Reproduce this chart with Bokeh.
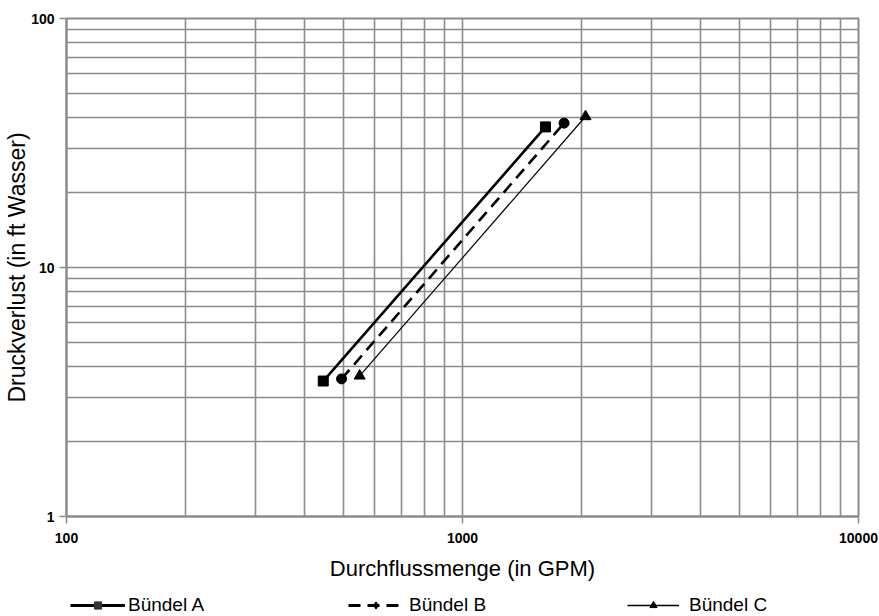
from bokeh.plotting import figure
from bokeh.layouts import column
from bokeh.models import FixedTicker, BasicTickFormatter, Legend, LegendItem, Range1d
from bokeh.embed import file_html
from bokeh.resources import INLINE

# Data
flow_a = [445, 1620]
dp_a = [3.5, 36.7]
flow_b = [495, 1805]
dp_b = [3.57, 38.0]
flow_c = [550, 2045]
dp_c = [3.67, 40.4]

labels = ["Bündel A", "Bündel B", "Bündel C"]

x_major = [100, 1000, 10000]
x_minor = [200, 300, 400, 500, 600, 700, 800, 900,
           2000, 3000, 4000, 5000, 6000, 7000, 8000, 9000]
y_major = [1, 10, 100]
y_minor = [2, 3, 4, 5, 6, 7, 8, 9, 20, 30, 40, 50, 60, 70, 80, 90]

GRID = "#8c8c8c"
FONT = "Liberation Sans"

p = figure(width=879, height=592, x_axis_type="log", y_axis_type="log",
           x_range=Range1d(100, 10000), y_range=Range1d(1, 100),
           output_backend="svg", toolbar_location=None,
           min_border_left=66, min_border_right=21, min_border_top=18,
           min_border_bottom=76)

p.background_fill_color = "white"
p.border_fill_color = "white"
p.outline_line_color = GRID
p.outline_line_width = 2

p.xaxis.ticker = FixedTicker(ticks=x_major, minor_ticks=x_minor)
p.yaxis.ticker = FixedTicker(ticks=y_major, minor_ticks=y_minor)
for ax in (p.xaxis, p.yaxis):
    ax.formatter = BasicTickFormatter(use_scientific=False)
    ax.axis_line_color = GRID
    ax.axis_line_width = 2
    ax.major_tick_line_color = GRID
    ax.major_tick_line_width = 1.5
    ax.major_tick_out = 7
    ax.major_tick_in = 0
    ax.minor_tick_out = 0
    ax.minor_tick_in = 0
    ax.major_label_text_font = FONT
    ax.major_label_text_font_style = "bold"
    ax.major_label_text_font_size = "14px"
    ax.major_label_text_color = "black"
    ax.axis_label_text_font = FONT
    ax.axis_label_text_font_style = "normal"
    ax.axis_label_text_color = "black"

p.xaxis.axis_label = "Durchflussmenge (in GPM)"
p.xaxis.axis_label_text_font_size = "22px"
p.xaxis.major_label_standoff = 9
p.xaxis.axis_label_standoff = 10

p.yaxis.axis_label = "Druckverlust (in ft Wasser)"
p.yaxis.axis_label_text_font_size = "23px"
p.yaxis.major_label_standoff = 5
p.yaxis.axis_label_standoff = -2

for g in (p.xgrid, p.ygrid):
    g.grid_line_color = GRID
    g.grid_line_width = 1.6
    g.minor_grid_line_color = GRID
    g.minor_grid_line_width = 1.6

p.line(flow_a, dp_a, line_color="black", line_width=2.6)
p.scatter(flow_a, dp_a, marker="square", size=10, fill_color="black", line_color="black")
p.line(flow_b, dp_b, line_color="black", line_width=2.6, line_dash="12 7")
p.scatter(flow_b, dp_b, marker="circle", size=10, fill_color="black", line_color="black")
p.line(flow_c, dp_c, line_color="black", line_width=1.2)
p.scatter(flow_c, dp_c, marker="triangle", size=11, fill_color="black", line_color="black")

# Legend strip below the chart (its frame is aligned with the chart's frame)
q = figure(width=879, height=24, x_range=Range1d(0, 879), y_range=Range1d(0, 24),
           output_backend="svg", toolbar_location=None,
           x_axis_location=None, y_axis_location=None,
           min_border_left=0, min_border_right=0, min_border_top=0,
           min_border_bottom=0)
q.outline_line_color = None
q.xgrid.visible = False
q.ygrid.visible = False
q.background_fill_color = "white"
q.border_fill_color = "white"

off = [-1000]
ka = q.line(off, off, line_color="black", line_width=3)
kas = q.scatter(off, off, marker="square", fill_color="#333333", line_color="#333333")
kb = q.line(off, off, line_color="black", line_width=3, line_dash="12 7")
kbs = q.scatter(off, off, marker="diamond", fill_color="black", line_color="black")
kc = q.line(off, off, line_color="black", line_width=1.3)
kcs = q.scatter(off, off, marker="triangle", fill_color="black", line_color="black")

specs = [
    (labels[0], [ka, kas], 4, 55, 3),
    (labels[1], [kb, kbs], 282, 55, 6),
    (labels[2], [kc, kcs], 561, 52, 10),
]
for text, rends, x0, gw, stand in specs:
    leg = Legend(items=[LegendItem(label=text, renderers=rends)],
                 location=(x0, 0), orientation="horizontal",
                 padding=0, margin=0, spacing=0,
                 glyph_width=gw, glyph_height=18, label_standoff=stand,
                 label_text_font=FONT, label_text_font_size="19px",
                 label_text_color="black",
                 border_line_color=None, background_fill_alpha=0)
    q.add_layout(leg, "center")

layout = column(p, q, spacing=0)
open("out.html", "w").write(file_html(layout, INLINE))
